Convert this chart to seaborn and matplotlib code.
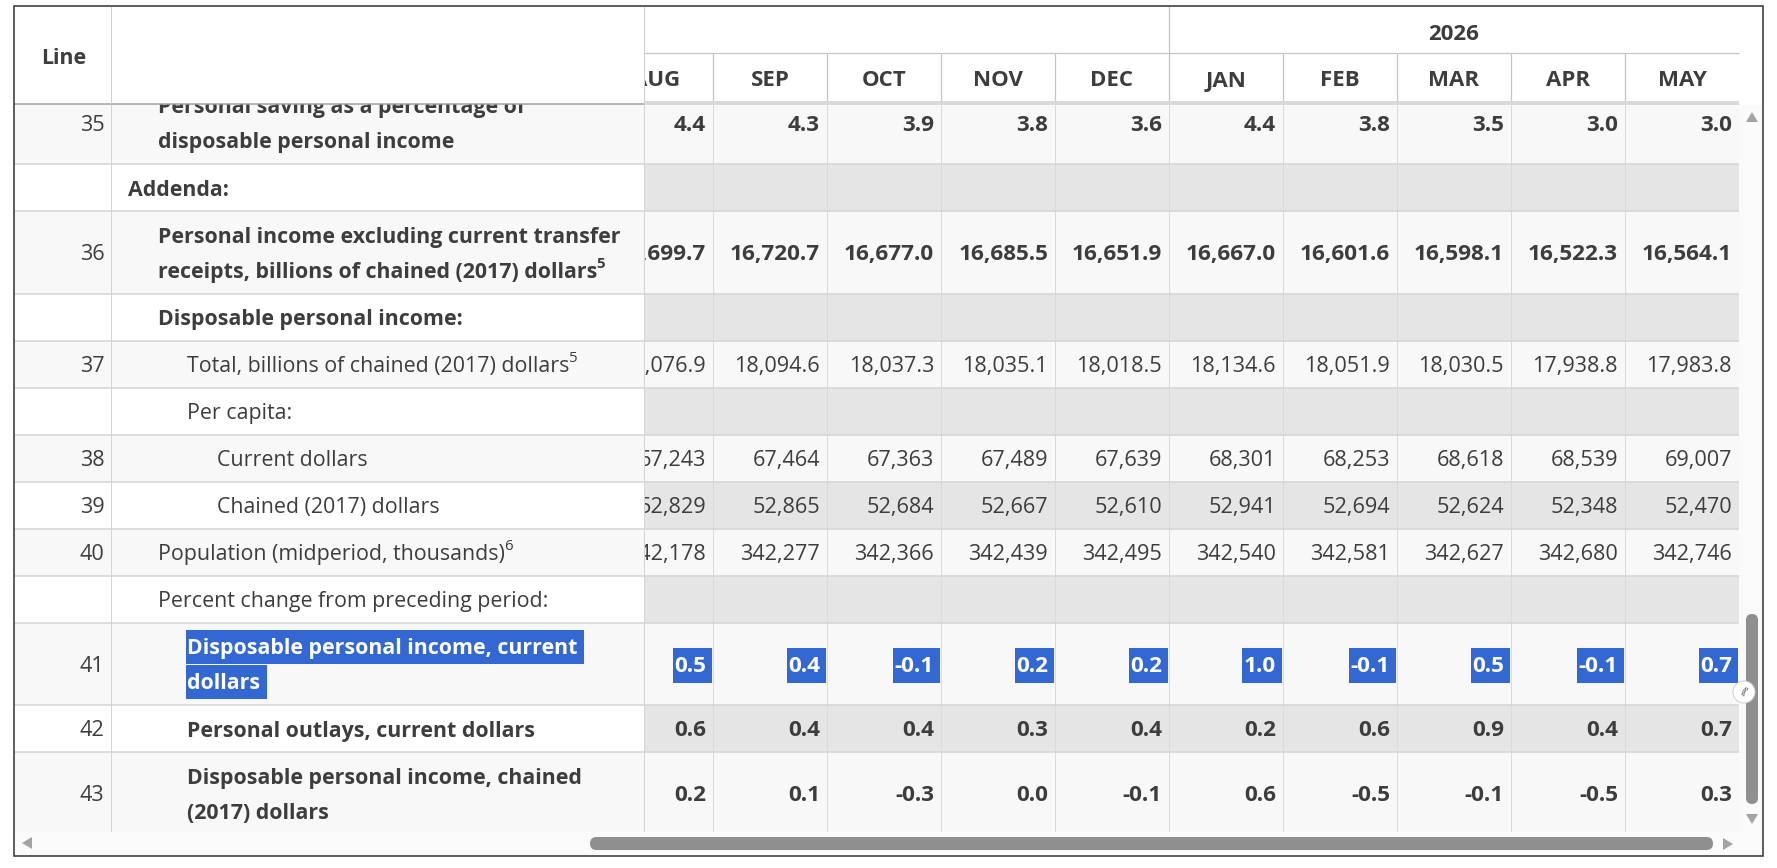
import matplotlib
matplotlib.use("Agg")
import matplotlib.pyplot as plt
import seaborn as sns
from matplotlib.patches import Rectangle, FancyBboxPatch, Polygon, Circle

sns.set_theme(style="white")
plt.rcParams['font.family'] = ['Open Sans', 'DejaVu Sans']

# ---------------- data ----------------
months = ["AUG", "SEP", "OCT", "NOV", "DEC", "JAN", "FEB", "MAR", "APR", "MAY"]
year_label = "2026"
year_first_month = 5  # JAN starts the 2026 group

line_numbers = ["35", "", "36", "", "37", "", "38", "39", "40", "", "41", "42", "43"]
row_labels = [
    "Personal saving as a percentage of\ndisposable personal income",
    "Addenda:",
    "Personal income excluding current transfer\nreceipts, billions of chained (2017) dollars",
    "Disposable personal income:",
    "Total, billions of chained (2017) dollars",
    "Per capita:",
    "Current dollars",
    "Chained (2017) dollars",
    "Population (midperiod, thousands)",
    "Percent change from preceding period:",
    "Disposable personal income, current\ndollars",
    "Personal outlays, current dollars",
    "Disposable personal income, chained\n(2017) dollars",
]
row_levels = [1, 0, 1, 1, 2, 2, 3, 3, 1, 1, 2, 2, 2]
row_bold = [True, True, True, True, False, False, False, False, False, False, True, True, True]
row_notes = ["", "", "5", "", "5", "", "", "", "6", "", "", "", ""]

saving_rate = [4.4, 4.3, 3.9, 3.8, 3.6, 4.4, 3.8, 3.5, 3.0, 3.0]
income_ex_transfers = [16699.7, 16720.7, 16677.0, 16685.5, 16651.9, 16667.0, 16601.6, 16598.1, 16522.3, 16564.1]
dpi_chained_total = [18076.9, 18094.6, 18037.3, 18035.1, 18018.5, 18134.6, 18051.9, 18030.5, 17938.8, 17983.8]
dpi_pc_current = [67243, 67464, 67363, 67489, 67639, 68301, 68253, 68618, 68539, 69007]
dpi_pc_chained = [52829, 52865, 52684, 52667, 52610, 52941, 52694, 52624, 52348, 52470]
population = [342178, 342277, 342366, 342439, 342495, 342540, 342581, 342627, 342680, 342746]
pct_dpi_current = [0.5, 0.4, -0.1, 0.2, 0.2, 1.0, -0.1, 0.5, -0.1, 0.7]
pct_outlays = [0.6, 0.4, 0.4, 0.3, 0.4, 0.2, 0.6, 0.9, 0.4, 0.7]
pct_dpi_chained = [0.2, 0.1, -0.3, 0.0, -0.1, 0.6, -0.5, -0.1, -0.5, 0.3]

row_values = [saving_rate, None, income_ex_transfers, None, dpi_chained_total, None,
              dpi_pc_current, dpi_pc_chained, population, None,
              pct_dpi_current, pct_outlays, pct_dpi_chained]
row_decimals = [1, 0, 1, 0, 1, 0, 0, 0, 0, 0, 1, 1, 1]
highlight_row = 10

# ---------------- layout (pixels) ----------------
W, H = 1777, 868
fig = plt.figure(figsize=(W / 100, H / 100), dpi=100)
ax = fig.add_axes([0, 0, 1, 1])
ax.set_xlim(0, W)
ax.set_ylim(H, 0)
ax.axis("off")
fig.patch.set_facecolor("white")

PX = 0.72  # 1 px in points
L, R, T, B = 14, 1763, 6, 856
line_col_r = 111
desc_col_r = 644
col_w = 114
data_r = 1739
head_mid = 53
head_bot = 104
body_bot = 832
scroll_top = 81.5
one_h, two_h = 47, 82.5
line_gap = 35
indent0, indent_step = 128, 29.7
FS = 15.4          # label text
FS_NUM_B = 16.2    # bold numbers
FS_NUM = 15.6      # regular numbers
FS_HEAD = 16.0     # month / year headers
DY = 2.5           # text baseline nudge
TXT = "#3d3d3d"
LIGHT = "#f8f8f8"
GRAY = "#e6e5e6"
GRID = "#d4d4d4"
BLUE = "#3367d1"

ncol = len(months)
col_left = [data_r - col_w * (ncol - i) for i in range(ncol)]

# ---------------- body ----------------
texts_to_box = []
notes_to_place = []
y = scroll_top
for i, lab in enumerate(row_labels):
    lines = lab.split("\n")
    h = one_h if len(lines) == 1 else two_h
    even = (i % 2 == 0)
    ax.add_patch(Rectangle((L, y), desc_col_r - L, h, fc=LIGHT if even else "white", ec="none", zorder=3))
    ax.add_patch(Rectangle((desc_col_r, y), data_r - desc_col_r, h, fc=LIGHT if even else GRAY, ec="none", zorder=1))
    cy = y + h / 2
    ax.hlines(y + h, L, data_r, color=GRID, lw=1.5 * PX, zorder=5)
    wt = "bold" if row_bold[i] else "normal"
    if line_numbers[i]:
        ax.text(104.5, cy + DY, line_numbers[i], ha="right", va="center", fontsize=FS_NUM, color=TXT, zorder=4)
    x0 = indent0 + indent_step * row_levels[i]
    n = len(lines)
    for k, ln in enumerate(lines):
        ly = cy + (k - (n - 1) / 2) * line_gap
        hl = (i == highlight_row)
        t = ax.text(x0, ly + DY, ln, ha="left", va="center", fontsize=FS, fontweight=wt,
                    color="white" if hl else TXT, zorder=4.5)
        if hl:
            texts_to_box.append((t, ly + 0.75, 33.5, 1.5, 6))
        if k == n - 1 and row_notes[i]:
            notes_to_place.append((t, ly + DY, row_notes[i], wt))
    vals = row_values[i]
    if vals is not None:
        for j, v in enumerate(vals):
            s = f"{v:,.{row_decimals[i]}f}"
            hl = (i == highlight_row)
            t = ax.text(col_left[j] + col_w - 7, cy + DY, s, ha="right", va="center",
                        fontsize=FS_NUM_B if row_bold[i] else FS_NUM,
                        fontweight=wt, color="white" if hl else TXT, zorder=2)
            if hl:
                texts_to_box.append((t, cy + 2, 35, 1.5, 5.5))
    y += h

# vertical grid lines in body
ax.vlines(line_col_r, head_bot, body_bot, color=GRID, lw=1 * PX, zorder=5)
ax.vlines(desc_col_r, head_bot, body_bot, color=GRID, lw=1 * PX, zorder=5)
for j in range(1, ncol):
    ax.vlines(col_left[j], head_bot, body_bot, color="#dadada", lw=1 * PX, zorder=1.2)
ax.vlines(data_r, head_bot, body_bot, color="#dadada", lw=1 * PX, zorder=1.2)

# ---------------- header ----------------
ax.add_patch(Rectangle((L, T), data_r - L, head_bot - T, fc="white", ec="none", zorder=10))
ax.hlines(head_mid, desc_col_r, data_r, color="#c4c4c4", lw=1.2 * PX, zorder=11)
ax.vlines(col_left[year_first_month], T, head_mid, color="#c4c4c4", lw=1.2 * PX, zorder=11)
for j in range(ncol):
    ax.text(col_left[j] + col_w / 2, 78.5 + DY, months[j], ha="center", va="center", fontsize=FS_HEAD,
            fontweight="bold", color=TXT, zorder=11)
    if j > 0:
        ax.vlines(col_left[j], head_mid, 101, color="#c4c4c4", lw=1.2 * PX, zorder=11)
ax.text((col_left[year_first_month] + data_r) / 2, 31.5 + DY, year_label, ha="center", va="center",
        fontsize=FS_HEAD, fontweight="bold", color=TXT, zorder=11)
ax.add_patch(Rectangle((desc_col_r, 101), data_r - desc_col_r, 4, fc="#d9d9d9", ec="none", zorder=11))
# sticky header label cells
ax.add_patch(Rectangle((L, T), desc_col_r - L, head_bot - T, fc="white", ec="none", zorder=12))
ax.hlines(head_bot, L, desc_col_r, color="#9e9e9e", lw=1.5 * PX, zorder=13)
ax.vlines(line_col_r, T, head_bot, color="#cfcfcf", lw=1 * PX, zorder=13)
ax.vlines(desc_col_r, T, head_bot, color="#cfcfcf", lw=1 * PX, zorder=13)
ax.text((L + line_col_r) / 2 + 1, 56 + DY, "Line", ha="center", va="center", fontsize=FS,
        fontweight="bold", color=TXT, zorder=13)

# ---------------- scrollbars ----------------
ax.add_patch(Rectangle((data_r, head_bot + 1), R - data_r, body_bot - head_bot - 1, fc="#fafafa", ec="none", zorder=14))
ax.add_patch(Rectangle((L, body_bot), R - L, B - body_bot, fc="#fafafa", ec="none", zorder=14))
ax.add_patch(FancyBboxPatch((1746, 614), 12, 190, boxstyle="round,pad=0,rounding_size=6",
                            fc="#8f8f8f", ec="none", zorder=15))
ax.add_patch(FancyBboxPatch((590, 837), 1123, 13, boxstyle="round,pad=0,rounding_size=6.5",
                            fc="#8f8f8f", ec="none", zorder=15))
ax.add_patch(Polygon([[1746, 122], [1758, 122], [1752, 112]], closed=True, fc="#a3a3a3", ec="none", zorder=15))
ax.add_patch(Polygon([[1746, 814], [1758, 814], [1752, 824]], closed=True, fc="#a3a3a3", ec="none", zorder=15))
ax.add_patch(Polygon([[32, 837], [32, 849], [22, 843]], closed=True, fc="#a3a3a3", ec="none", zorder=15))
ax.add_patch(Polygon([[1723, 838], [1723, 850], [1733, 844]], closed=True, fc="#a3a3a3", ec="none", zorder=15))
ax.add_patch(Circle((1744, 692), 11, fc="white", ec="#cfcfcf", lw=1 * PX, zorder=16))
ax.text(1744, 692, "((", ha="center", va="center", fontsize=7, color="#444444", rotation=-30, zorder=17)

# outer border
ax.add_patch(Rectangle((L, T), R - L, B - T, fc="none", ec="#3a3a3a", lw=1.6 * PX, zorder=20))

# ---------------- highlight boxes & footnotes (sized from text extents) ----------------
fig.canvas.draw()
rend = fig.canvas.get_renderer()
inv = ax.transData.inverted()
for t, bcy, bh, padl, padr in texts_to_box:
    bb = t.get_window_extent(rend)
    (x0, _), (x1, _) = inv.transform([[bb.x0, bb.y0], [bb.x1, bb.y1]])
    ax.add_patch(Rectangle((x0 - padl, bcy - bh / 2), (x1 - x0) + padl + padr, bh, fc=BLUE, ec="none",
                           zorder=t.get_zorder() - 0.2))
for t, ly, note, wt in notes_to_place:
    bb = t.get_window_extent(rend)
    (x1, _), = inv.transform([[bb.x1, bb.y0]])
    ax.text(x1 - 0.5, ly - 8, note, ha="left", va="center", fontsize=FS * 0.7, fontweight=wt,
            color=TXT, zorder=t.get_zorder())

fig.savefig("out.png", dpi=100, facecolor="white")
